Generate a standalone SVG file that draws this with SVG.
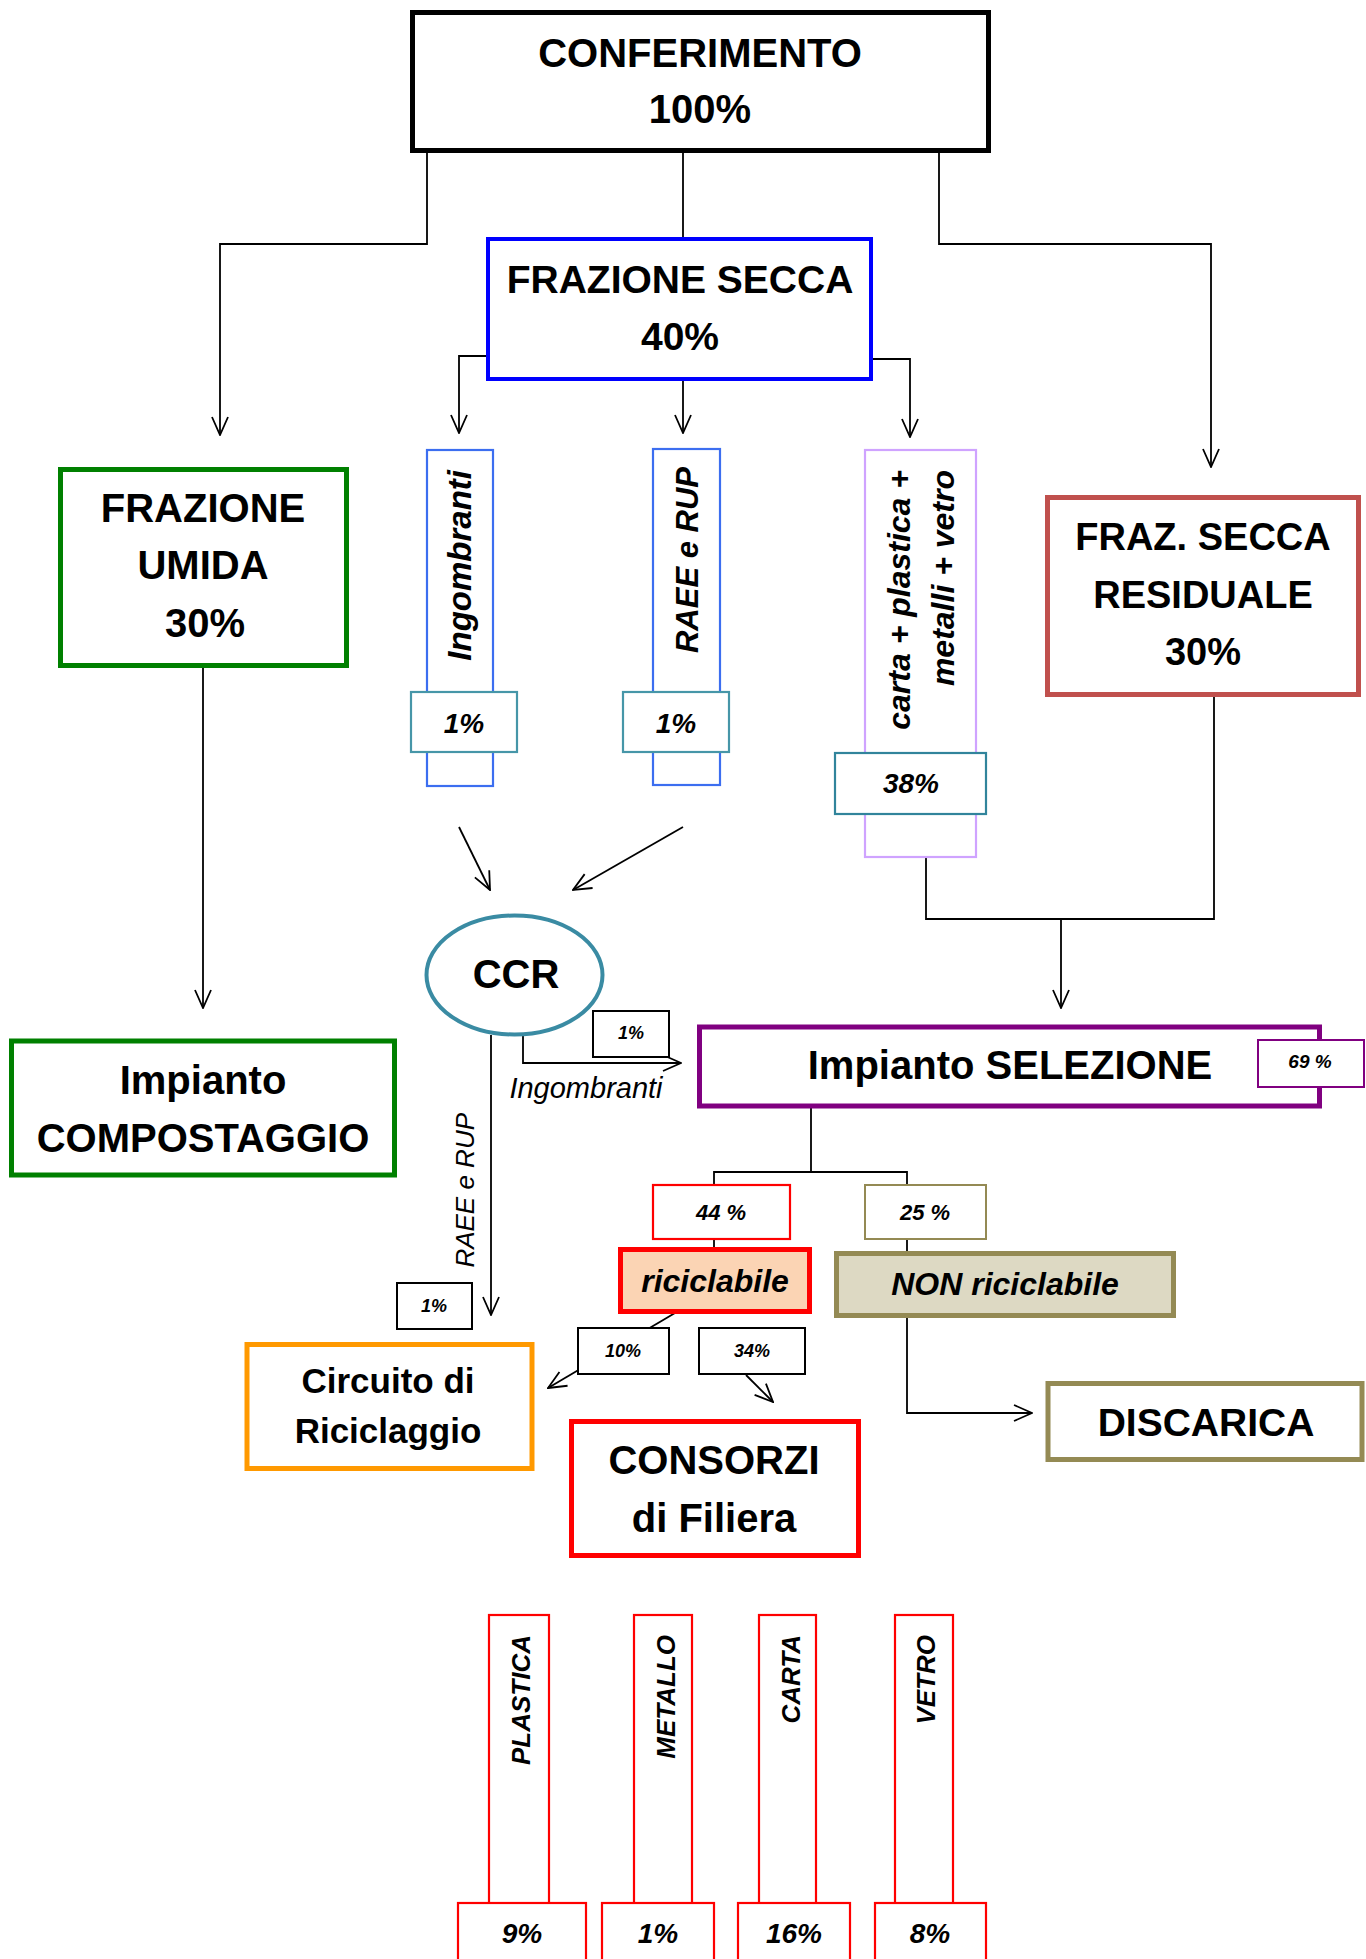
<svg xmlns="http://www.w3.org/2000/svg" width="1366" height="1959" viewBox="0 0 1366 1959">
<style>
.t{font-family:"Liberation Sans",Arial,sans-serif;font-weight:bold;fill:#000;text-anchor:middle}
.bi{font-family:"Liberation Sans",Arial,sans-serif;font-weight:bold;font-style:italic;fill:#000;text-anchor:middle}
.i{font-family:"Liberation Sans",Arial,sans-serif;font-style:italic;fill:#000;text-anchor:middle}
.c{fill:none;stroke:#000;stroke-width:1.8}
.tag{fill:#fff;stroke:#000;stroke-width:2}
.col{fill:#fff;stroke:#3c6ef0;stroke-width:2.2}
.teal{fill:#fff;stroke:#4696a8;stroke-width:2.2}
.red2{fill:#fff;stroke:#ff0000;stroke-width:2.2}
</style>
<defs>
<marker id="arr" viewBox="0 0 20 20" refX="19" refY="10" markerWidth="20" markerHeight="20" orient="auto" markerUnits="userSpaceOnUse">
<path d="M1,2 L19,10 L1,18" fill="none" stroke="#000" stroke-width="1.8"/>
</marker>
</defs>
<rect width="1366" height="1959" fill="#fff"/>

<g id="connectors">
<path class="c" d="M427,150 V244 H220 V435" marker-end="url(#arr)"/>
<path class="c" d="M683,150 V237"/>
<path class="c" d="M939,150 V244 H1211 V467" marker-end="url(#arr)"/>
<path class="c" d="M486,356 H459 V433" marker-end="url(#arr)"/>
<path class="c" d="M683,380 V433" marker-end="url(#arr)"/>
<path class="c" d="M873,359 H910 V437" marker-end="url(#arr)"/>
<path class="c" d="M203,667 V1008" marker-end="url(#arr)"/>
<path class="c" d="M459,827 L490,890" marker-end="url(#arr)"/>
<path class="c" d="M683,827 L573,890" marker-end="url(#arr)"/>
<path class="c" d="M1214,696 V919 H926 V857"/>
<path class="c" d="M1061,919 V1008" marker-end="url(#arr)"/>
<path class="c" d="M523,1036 V1063 H681" marker-end="url(#arr)"/>
<path class="c" d="M491,1035 V1315" marker-end="url(#arr)"/>
<path class="c" d="M811,1108 V1172"/>
<path class="c" d="M714,1186 V1172 H907 V1186"/>
<path class="c" d="M714,1239 V1248"/>
<path class="c" d="M907,1239 V1252"/>
<path class="c" d="M907,1317 V1413 H1032" marker-end="url(#arr)"/>
<path class="c" d="M675,1313 L548,1388" marker-end="url(#arr)"/>
<path class="c" d="M746,1375 L773,1402" marker-end="url(#arr)"/>
</g>

<g id="n-conferimento">
<rect x="412.5" y="12.5" width="576" height="138" fill="#fff" stroke="#000" stroke-width="5"/>
<text class="t" x="700" y="67" font-size="40">CONFERIMENTO</text>
<text class="t" x="700" y="123" font-size="40">100%</text>
</g>

<g id="n-frazione-secca">
<rect x="488" y="239" width="383" height="140" fill="#fff" stroke="#0000ff" stroke-width="4"/>
<text class="t" x="680" y="293" font-size="39">FRAZIONE SECCA</text>
<text class="t" x="680" y="350" font-size="39">40%</text>
</g>

<g id="n-frazione-umida">
<rect x="60.5" y="469.5" width="286" height="196" fill="#fff" stroke="#008000" stroke-width="5"/>
<text class="t" x="203" y="522" font-size="40">FRAZIONE</text>
<text class="t" x="203" y="579" font-size="40">UMIDA</text>
<text class="t" x="205" y="637" font-size="40">30%</text>
</g>

<g id="n-ingombranti">
<rect class="col" x="427" y="450" width="66" height="336"/>
<text class="bi" transform="translate(471,470) rotate(-90)" style="text-anchor:end" font-size="33">Ingombranti</text>
<rect class="teal" x="411" y="692" width="106" height="60"/>
<text class="bi" x="464" y="733" font-size="28">1%</text>
</g>

<g id="n-raee">
<rect class="col" x="653" y="449" width="67" height="336"/>
<text class="bi" transform="translate(698,467) rotate(-90)" style="text-anchor:end" font-size="31">RAEE e RUP</text>
<rect class="teal" x="623" y="692" width="106" height="60"/>
<text class="bi" x="676" y="733" font-size="28">1%</text>
</g>

<g id="n-carta-plastica">
<rect x="865" y="450" width="111" height="407" fill="#fff" stroke="#cfa3ff" stroke-width="2.2"/>
<text class="bi" transform="translate(910,470) rotate(-90)" style="text-anchor:end" font-size="32">carta + plastica +</text>
<text class="bi" transform="translate(954,470) rotate(-90)" style="text-anchor:end" font-size="32">metalli + vetro</text>
<rect x="835" y="753" width="151" height="61" fill="#fff" stroke="#31849b" stroke-width="2.2"/>
<text class="bi" x="911" y="793" font-size="28">38%</text>
</g>

<g id="n-residuale">
<rect x="1047.5" y="497.5" width="311" height="197" fill="#fff" stroke="#c0504d" stroke-width="5"/>
<text class="t" x="1203" y="550" font-size="38">FRAZ. SECCA</text>
<text class="t" x="1203" y="608" font-size="38">RESIDUALE</text>
<text class="t" x="1203" y="665" font-size="38">30%</text>
</g>

<g id="n-ccr">
<ellipse cx="514.5" cy="975" rx="88" ry="59.5" fill="#fff" stroke="#3a8ba3" stroke-width="4"/>
<text class="t" x="516" y="988" font-size="40">CCR</text>
</g>

<g id="tag-ccr-ingombranti">
<rect class="tag" x="593" y="1011" width="76" height="46"/>
<text class="bi" x="631" y="1039" font-size="18">1%</text>
<text class="i" x="586" y="1098" font-size="29">Ingombranti</text>
</g>

<g id="tag-ccr-raee">
<text class="i" transform="translate(474,1113) rotate(-90)" style="text-anchor:end" font-size="26">RAEE e RUP</text>
<rect class="tag" x="397" y="1283" width="75" height="46"/>
<text class="bi" x="434" y="1312" font-size="18">1%</text>
</g>

<g id="n-selezione">
<rect x="699.5" y="1027" width="620" height="79" fill="#fff" stroke="#800080" stroke-width="5"/>
<text class="t" x="1010" y="1079" font-size="40">Impianto SELEZIONE</text>
<rect x="1258" y="1040" width="106" height="47" fill="#fff" stroke="#800080" stroke-width="2"/>
<text class="bi" x="1310" y="1068" font-size="19">69 %</text>
</g>

<g id="n-compostaggio">
<rect x="11.5" y="1041" width="383" height="134" fill="#fff" stroke="#008000" stroke-width="5"/>
<text class="t" x="203" y="1094" font-size="40">Impianto</text>
<text class="t" x="203" y="1152" font-size="40">COMPOSTAGGIO</text>
</g>

<g id="tag-44">
<rect class="red2" x="653" y="1185" width="137" height="54"/>
<text class="bi" x="721" y="1220" font-size="22">44 %</text>
</g>

<g id="tag-25">
<rect x="865" y="1185" width="121" height="54" fill="#fff" stroke="#948a54" stroke-width="2"/>
<text class="bi" x="925" y="1220" font-size="22">25 %</text>
</g>

<g id="n-riciclabile">
<rect x="620.5" y="1249.5" width="189" height="62" fill="#fbd4b4" stroke="#ff0000" stroke-width="5"/>
<text class="bi" x="715" y="1292" font-size="32">riciclabile</text>
</g>

<g id="n-non-riciclabile">
<rect x="836.5" y="1253.5" width="337" height="62" fill="#ddd9c3" stroke="#948a54" stroke-width="5"/>
<text class="bi" x="1005" y="1295" font-size="32">NON riciclabile</text>
</g>

<g id="n-circuito">
<rect x="247" y="1344.5" width="285" height="124" fill="#fff" stroke="#ff9900" stroke-width="5"/>
<text class="t" x="388" y="1393" font-size="35">Circuito di</text>
<text class="t" x="388" y="1443" font-size="35">Riciclaggio</text>
</g>

<g id="tag-10">
<rect class="tag" x="578" y="1328" width="91" height="46"/>
<text class="bi" x="623" y="1357" font-size="18">10%</text>
</g>

<g id="tag-34">
<rect class="tag" x="699" y="1328" width="106" height="46"/>
<text class="bi" x="752" y="1357" font-size="18">34%</text>
</g>

<g id="n-discarica">
<rect x="1048" y="1383.5" width="314" height="76" fill="#fff" stroke="#948a54" stroke-width="5"/>
<text class="t" x="1206" y="1436" font-size="39">DISCARICA</text>
</g>

<g id="n-consorzi">
<rect x="571.5" y="1421.5" width="287" height="134" fill="#fff" stroke="#ff0000" stroke-width="5"/>
<text class="t" x="714" y="1474" font-size="40">CONSORZI</text>
<text class="t" x="714" y="1532" font-size="40">di Filiera</text>
</g>

<g id="n-plastica">
<rect class="red2" x="489" y="1615" width="60" height="290"/>
<text class="bi" transform="translate(530,1635) rotate(-90)" style="text-anchor:end" font-size="26">PLASTICA</text>
<rect class="red2" x="458" y="1903" width="128" height="70"/>
<text class="bi" x="522" y="1943" font-size="28">9%</text>
</g>

<g id="n-metallo">
<rect class="red2" x="634" y="1615" width="58" height="290"/>
<text class="bi" transform="translate(675,1635) rotate(-90)" style="text-anchor:end" font-size="26">METALLO</text>
<rect class="red2" x="602" y="1903" width="112" height="70"/>
<text class="bi" x="658" y="1943" font-size="28">1%</text>
</g>

<g id="n-carta">
<rect class="red2" x="759" y="1615" width="57" height="290"/>
<text class="bi" transform="translate(800,1635) rotate(-90)" style="text-anchor:end" font-size="26">CARTA</text>
<rect class="red2" x="738" y="1903" width="112" height="70"/>
<text class="bi" x="794" y="1943" font-size="28">16%</text>
</g>

<g id="n-vetro">
<rect class="red2" x="895" y="1615" width="58" height="290"/>
<text class="bi" transform="translate(935,1635) rotate(-90)" style="text-anchor:end" font-size="26">VETRO</text>
<rect class="red2" x="875" y="1903" width="111" height="70"/>
<text class="bi" x="930" y="1943" font-size="28">8%</text>
</g>
</svg>
